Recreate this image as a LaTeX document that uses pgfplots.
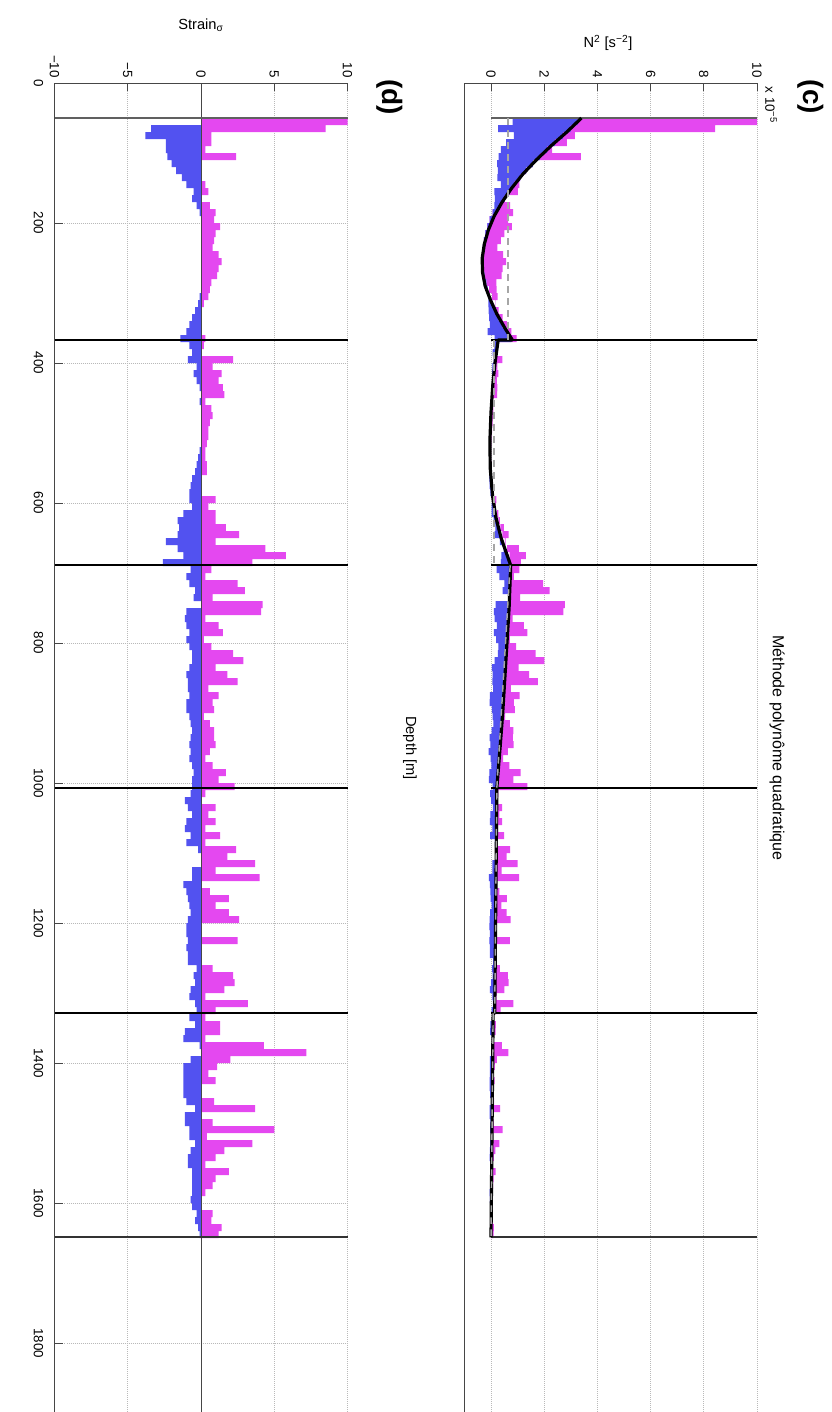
\documentclass[border=0pt]{standalone}
\usepackage{fontspec}
\setmainfont{Liberation Sans}
\usepackage{pgfplots}
\pgfplotsset{compat=1.18}
\usepackage{pgfplotstable}
\definecolor{sblue}{RGB}{82,82,240}
\definecolor{smag}{RGB}{228,72,240}
\definecolor{axgray}{RGB}{70,70,70}
\pgfplotstableread{
d p n f pu pl
50 10 0 3.26 6.74 0
60 8.5 -3.4 2.99 5.44 2.18
70 0.7 -3.8 2.70 0.45 2.43
80 0.7 -2.4 2.40 0.45 1.54
90 0.3 -2.4 2.11 0.19 1.54
100 2.4 -2.3 1.84 1.54 1.47
110 0 -2.0 1.57 0 1.28
120 0 -1.7 1.32 0 1.09
130 0 -1.3 1.09 0 0.83
140 0.3 -1.0 0.88 0.19 0.64
150 0.5 -0.5 0.69 0.32 0.32
160 0 -0.6 0.51 0 0.38
170 0.6 -0.3 0.34 0.38 0.19
180 1.0 -0.1 0.19 0.64 0.06
190 0.9 0 0.06 0.58 0
200 1.3 0 -0.05 0.83 0
210 1.0 0 -0.14 0.64 0
220 0.9 0 -0.21 0.58 0
230 0.8 0 -0.27 0.51 0
240 1.2 0 -0.31 0.77 0
250 1.4 0 -0.33 0.90 0
260 1.2 0 -0.33 0.77 0
270 1.1 0 -0.30 0.70 0
280 0.7 0 -0.25 0.45 0
290 0.6 0 -0.17 0.38 0
300 0.5 -0.1 -0.07 0.32 0.06
310 0.2 -0.2 0.04 0.13 0.13
320 0 -0.4 0.16 0 0.26
330 0 -0.6 0.29 0 0.38
340 0 -0.8 0.44 0 0.51
350 0 -1.0 0.60 0 0.64
360 0.3 -1.4 0.77 0.19 0.90
370 0.2 -0.8 0.24 0.02 0.10
380 0 -0.6 0.20 0 0.07
390 2.2 -0.9 0.17 0.26 0.11
400 0.8 -0.3 0.14 0.10 0.04
410 1.4 -0.5 0.11 0.17 0.06
420 1.2 -0.3 0.08 0.14 0.04
430 1.5 -0.1 0.06 0.18 0.01
440 1.6 0 0.04 0.19 0
450 0.3 -0.1 0.02 0.04 0.01
460 0.7 0 0.01 0.08 0
470 0.8 0 0.00 0.10 0
480 0.6 0 -0.01 0.07 0
490 0.5 0 -0.02 0.06 0
500 0.5 0 -0.04 0.06 0
510 0.4 0 -0.04 0.05 0
520 0.3 -0.1 -0.04 0.04 0.01
530 0.3 -0.2 -0.04 0.04 0.02
540 0.4 -0.3 -0.03 0.05 0.04
550 0.4 -0.4 -0.02 0.05 0.05
560 0 -0.6 0.00 0 0.07
570 0 -0.7 0.02 0 0.08
580 0 -0.8 0.05 0 0.10
590 1.0 -0.8 0.08 0.12 0.10
600 0.5 -0.6 0.12 0.06 0.07
610 1.0 -1.2 0.16 0.12 0.14
620 1.0 -1.6 0.21 0.12 0.19
630 1.7 -1.5 0.28 0.20 0.18
640 2.6 -1.6 0.35 0.31 0.19
650 1.0 -2.4 0.43 0.12 0.29
660 4.4 -1.6 0.52 0.53 0.19
670 5.8 -1.2 0.61 0.70 0.14
680 3.5 -2.6 0.70 0.42 0.31
690 0.7 -0.7 0.72 0.35 0.35
700 0.3 -1.0 0.71 0.15 0.50
710 2.5 -0.8 0.71 1.25 0.40
720 3.0 -0.4 0.70 1.50 0.20
730 0.8 -0.5 0.69 0.40 0.25
740 4.2 0 0.68 2.10 0
750 4.1 -1.0 0.67 2.05 0.50
760 0.3 -1.1 0.66 0.15 0.55
770 1.2 -1.0 0.64 0.60 0.50
780 1.5 -0.8 0.62 0.75 0.40
790 0.2 -1.0 0.61 0.10 0.50
800 0.7 -0.8 0.59 0.35 0.40
810 2.2 -0.6 0.58 1.10 0.30
820 2.9 -0.6 0.56 1.45 0.30
830 1.0 -0.8 0.54 0.50 0.40
840 1.8 -1.0 0.53 0.90 0.50
850 2.5 -0.9 0.51 1.25 0.45
860 0.5 -0.9 0.50 0.25 0.45
870 1.2 -0.8 0.48 0.60 0.40
880 0.8 -1.0 0.46 0.40 0.50
890 0.9 -1.0 0.45 0.45 0.50
900 0.2 -0.8 0.43 0.10 0.40
910 0.6 -0.7 0.41 0.30 0.35
920 0.9 -0.6 0.39 0.45 0.30
930 0.9 -0.7 0.37 0.45 0.35
940 1.0 -0.8 0.35 0.50 0.40
950 0.6 -0.7 0.33 0.30 0.35
960 0.3 -0.8 0.31 0.15 0.40
970 0.8 -0.6 0.29 0.40 0.30
980 1.7 -0.5 0.26 0.85 0.25
990 1.2 -0.6 0.24 0.60 0.30
1000 2.3 -0.6 0.22 1.15 0.30
1010 0.3 -0.7 0.21 0.07 0.15
1020 0 -1.1 0.21 0 0.24
1030 1.0 -0.9 0.20 0.22 0.20
1040 0.5 -0.6 0.20 0.11 0.13
1050 1.0 -1.0 0.20 0.22 0.22
1060 0.3 -1.1 0.20 0.07 0.24
1070 1.3 -0.7 0.20 0.29 0.15
1080 0.3 -1.0 0.19 0.07 0.22
1090 2.4 -0.2 0.19 0.53 0.04
1100 1.8 0 0.19 0.40 0
1110 3.7 0 0.19 0.81 0
1120 1.0 -0.6 0.18 0.22 0.13
1130 4.0 -0.6 0.18 0.88 0.13
1140 0 -1.2 0.18 0 0.26
1150 0.6 -1.0 0.18 0.13 0.22
1160 1.9 -0.9 0.18 0.42 0.20
1170 1.0 -0.8 0.17 0.22 0.18
1180 1.9 -0.7 0.17 0.42 0.15
1190 2.6 -0.9 0.17 0.57 0.20
1200 0 -1.0 0.17 0 0.22
1210 0 -1.0 0.16 0 0.22
1220 2.5 -0.9 0.16 0.55 0.20
1230 0 -1.0 0.16 0 0.22
1240 0 -0.9 0.16 0 0.20
1250 0 -0.9 0.16 0 0.20
1260 0.8 -0.3 0.15 0.18 0.07
1270 2.2 -0.5 0.15 0.48 0.11
1280 2.3 -0.4 0.15 0.51 0.09
1290 1.6 -0.7 0.15 0.35 0.15
1300 0.3 -0.8 0.14 0.07 0.18
1310 3.2 -0.4 0.14 0.70 0.09
1320 1.0 -0.3 0.14 0.22 0.07
1330 0.3 -0.8 0.08 0.02 0.06
1340 1.3 -0.4 0.08 0.10 0.03
1350 1.3 -1.1 0.07 0.10 0.09
1360 0.3 -1.2 0.07 0.02 0.10
1370 4.3 -0.1 0.07 0.34 0.01
1380 7.2 0 0.07 0.58 0
1390 2.0 -0.7 0.06 0.16 0.06
1400 1.1 -1.2 0.06 0.09 0.10
1410 0.5 -1.2 0.06 0.04 0.10
1420 1.0 -1.2 0.06 0.08 0.10
1430 0 -1.2 0.05 0 0.10
1440 0 -1.2 0.05 0 0.10
1450 0.9 -1.0 0.05 0.07 0.08
1460 3.7 -0.4 0.04 0.30 0.03
1470 0 -1.1 0.04 0 0.09
1480 0.8 -1.1 0.04 0.06 0.09
1490 5.0 -0.8 0.04 0.40 0.06
1500 0.4 -0.8 0.03 0.03 0.06
1510 3.5 -0.4 0.03 0.28 0.03
1520 1.6 -0.7 0.03 0.13 0.06
1530 1.0 -0.9 0.03 0.08 0.07
1540 0.3 -0.9 0.02 0.02 0.07
1550 1.9 -0.6 0.02 0.15 0.05
1560 1.0 -0.6 0.02 0.08 0.05
1570 0.8 -0.6 0.02 0.06 0.05
1580 0.3 -0.6 0.02 0.02 0.05
1590 0 -0.7 0.01 0 0.06
1600 0 -0.6 0.01 0 0.05
1610 0.8 -0.3 0.01 0.06 0.02
1620 0.7 -0.4 0.01 0.06 0.03
1630 1.4 -0.2 0.00 0.11 0.02
1640 1.2 -0.1 0.00 0.10 0.01
1650 0 0 0 0 0
}\data
\pgfplotstableread{
d v
50 3.40
70 2.85
90 2.25
110 1.70
130 1.20
150 0.78
170 0.42
190 0.12
210 -0.10
230 -0.25
250 -0.33
270 -0.32
290 -0.22
310 -0.02
330 0.22
350 0.52
367 0.80
367 0.27
400 0.15
430 0.07
470 0.00
510 -0.04
550 -0.03
590 0.06
620 0.18
650 0.38
689 0.74
750 0.68
800 0.60
850 0.52
900 0.44
950 0.34
1007 0.22
1329 0.14
1329 0.08
1649 0.00
}\fit
\begin{document}
\begin{tikzpicture}
\useasboundingbox (0,0) rectangle (623.25pt,-1059pt);
\pgfplotsset{
 geo/.style={y=0.525pt, y dir=reverse, ymin=0, ymax=1900, anchor=origin, hide axis, clip=false},
 geoD/.style={geo, at={(150.75pt,-62.25pt)}, x=10.9875pt, xmin=-10, xmax=10},
 geoC/.style={geo, at={(368.25pt,-62.25pt)}, x=19.95pt, xmin=-1, xmax=10},
 grd/.style={densely dotted, gray!55, line width=0.5pt},
 axl/.style={axgray, line width=0.6pt},
 bnd/.style={black, line width=1.3pt},
}
\tikzset{
 lblD/.style={rotate=-90, anchor=north, inner ysep=8.25pt, inner xsep=0pt, font=\fontsize{10}{12}\selectfont},
 lblV/.style={rotate=-90, anchor=east, inner xsep=3.75pt, inner ysep=0pt, font=\fontsize{10}{12}\selectfont},
}
% ---------------- panel (d) ----------------
\begin{axis}[geoD]
  \pgfplotsinvokeforeach{200,400,600,800,1000,1200,1400,1600,1800}{
    \addplot[grd] coordinates {(-10,#1) (10,#1)};}
  \pgfplotsinvokeforeach{-5,5,10}{
    \addplot[grd] coordinates {(#1,0) (#1,1900)};}
  \addplot[xbar interval, fill=smag, draw=none] table[x=p,y=d]{\data};
  \addplot[xbar interval, fill=sblue, draw=none] table[x=n,y=d]{\data};
  \addplot[axl] coordinates {(0,0) (0,1900)};
  \addplot[gray!75!black, line width=1.3pt] coordinates {(-10,50) (10,50)};
  \addplot[bnd] coordinates {(-10,367) (10,367)};
  \addplot[bnd] coordinates {(-10,689) (10,689)};
  \addplot[bnd] coordinates {(-10,1007) (10,1007)};
  \addplot[bnd] coordinates {(-10,1329) (10,1329)};
  \addplot[bnd, black!80] coordinates {(-10,1649) (10,1649)};
  % axis lines and ticks
  \addplot[axl] coordinates {(-10,1900) (-10,0) (10,0)};
  \pgfplotsinvokeforeach{200,400,600,800,1000,1200,1400,1600,1800}{
    \addplot[axl] coordinates {(-10,#1) (-9.45,#1)};}
  \pgfplotsinvokeforeach{-5,0,5,10}{
    \addplot[axl] coordinates {(#1,0) (#1,11)};}
  \pgfplotsinvokeforeach{0,200,400,600,800,1000,1200,1400,1600,1800}{
    \node[lblD] at (axis cs:-10,#1) {#1};}
  \node[lblV] at (axis cs:-10,0) {−10};
  \node[lblV] at (axis cs:-5,0) {−5};
  \node[lblV] at (axis cs:0,0) {0};
  \node[lblV] at (axis cs:5,0) {5};
  \node[lblV] at (axis cs:10,0) {10};
\end{axis}
% ---------------- panel (c): grid, axes ----------------
\begin{axis}[geoC]
  \pgfplotsinvokeforeach{0,2,4,6,8,10}{
    \addplot[grd] coordinates {(#1,0) (#1,1900)};}
  \addplot[axl] coordinates {(-1,1900) (-1,0) (10,0)};
  \pgfplotsinvokeforeach{0,2,4,6,8,10}{
    \addplot[axl] coordinates {(#1,0) (#1,11)};}
  \node[lblV] at (axis cs:0,0) {0};
  \node[lblV] at (axis cs:2,0) {2};
  \node[lblV] at (axis cs:4,0) {4};
  \node[lblV] at (axis cs:6,0) {6};
  \node[lblV] at (axis cs:8,0) {8};
  \node[lblV] at (axis cs:10,0) {10};
\end{axis}
% ---------------- panel (c): N2 anomalies (stacked on the fit) ----------------
\begin{axis}[geoC, stack plots=x]
  \addplot[xbar interval, fill=none, draw=none] table[x expr=\thisrow{f}-\thisrow{pl}, y=d]{\data};
  \addplot[xbar interval, fill=sblue, draw=none] table[x=pl, y=d]{\data};
  \addplot[xbar interval, fill=smag, draw=none] table[x=pu, y=d]{\data};
\end{axis}
% ---------------- panel (c): fit and segment lines ----------------
\begin{axis}[geoC]
  \addplot[gray!75!black, line width=1.3pt] coordinates {(0,50) (10,50)};
  \addplot[bnd] coordinates {(0,367) (10,367)};
  \addplot[bnd] coordinates {(0,689) (10,689)};
  \addplot[bnd] coordinates {(0,1007) (10,1007)};
  \addplot[bnd] coordinates {(0,1329) (10,1329)};
  \addplot[bnd, black!80] coordinates {(0,1649) (10,1649)};
  \addplot[black, line width=2.4pt, line join=round, mark=none] table[x=v,y=d]{\fit};
  \addplot[gray!70, dash pattern=on 5pt off 4pt, line width=1.1pt] coordinates {(0.64,50) (0.64,367)};
  \addplot[gray!70, dash pattern=on 5pt off 4pt, line width=1.1pt] coordinates {(0.12,367) (0.12,689)};
  \addplot[gray!70, dash pattern=on 5pt off 4pt, line width=1.1pt] coordinates {(0.72,689) (0.22,1007) (0.14,1329)};
  \addplot[gray!70, dash pattern=on 5pt off 4pt, line width=1.1pt] coordinates {(0.08,1329) (0.0,1649)};
\end{axis}
\node[rotate=-90, font=\bfseries\fontsize{21}{24}\selectfont] at (608.25pt,-72.75pt) {(c)};
\node[rotate=-90, font=\bfseries\fontsize{21}{24}\selectfont] at (292.5pt,-72.75pt) {(d)};
\node[font=\fontsize{11}{13}\selectfont] at (150.75pt,-18.75pt) {Strain\textsubscript{σ}};
\node[font=\fontsize{11}{13}\selectfont] at (456pt,-32.25pt) {N\textsuperscript{2} [s\textsuperscript{−2}]};
\node[rotate=-90, font=\fontsize{11}{13}\selectfont] at (307.5pt,-561pt) {Depth [m]};
\node[rotate=-90, font=\fontsize{12}{14}\selectfont] at (582.75pt,-561pt) {Méthode polynôme quadratique};
\node[rotate=-90, font=\fontsize{10}{12}\selectfont] at (578.25pt,-78.75pt) {x 10\textsuperscript{−5}};
\end{tikzpicture}
\end{document}
